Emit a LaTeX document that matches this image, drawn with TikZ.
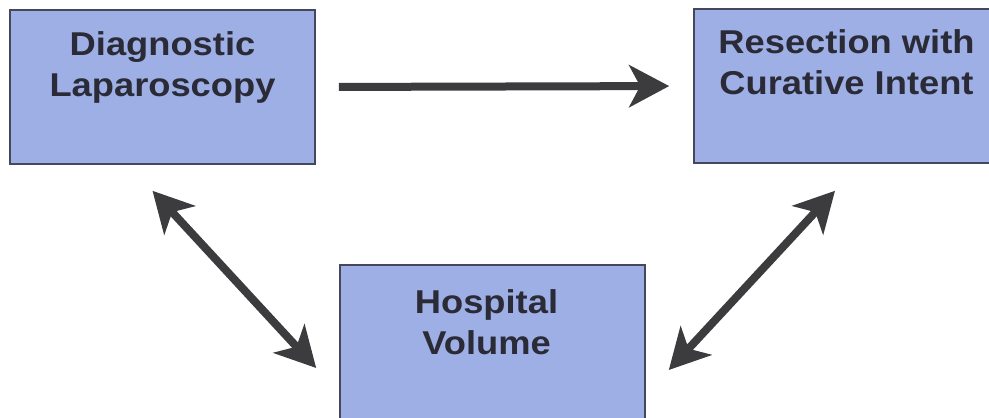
\documentclass[tikz,border=0pt]{standalone}
\usepackage{fontspec}
\setmainfont{Liberation Sans}
\newfontfamily\boxfont[FakeStretch=1.1]{Liberation Sans}
\usetikzlibrary{arrows.meta}
\definecolor{boxfill}{HTML}{9EAFE6}
\definecolor{boxline}{HTML}{45475A}
\definecolor{txt}{HTML}{2A2B36}
\definecolor{arr}{HTML}{3C3C3E}
\tikzset{
  box/.style={draw=boxline, line width=1.6pt, fill=boxfill, minimum width=305pt, minimum height=154pt, inner sep=0pt},
  lbl/.style={text=txt, font=\boxfont\bfseries\fontsize{33}{41}\selectfont, align=center, inner sep=0pt, anchor=base},
  arrow/.style={draw=arr, line width=8pt, -{Stealth[length=40pt, width=42pt, inset=11pt]}},
  dbl/.style={draw=arr, line width=8pt, {Stealth[length=40pt, width=42pt, inset=11pt]}-{Stealth[length=40pt, width=42pt, inset=11pt]}}
}
\begin{document}
\begin{tikzpicture}[x=1pt, y=-1pt]
\useasboundingbox (0,0) rectangle (989,418);
\clip (0,0) rectangle (989,418);
\node[box] (diag) at (162.5,87) {};
\node[box] (resec) at (846.5,86) {};
\node[box] (hosp) at (492.5,342) {};
\node[lbl] (diagt) at ([yshift=-87pt]diag.north) {Diagnostic\\Laparoscopy};
\node[lbl] (resect) at ([yshift=-86pt]resec.north) {Resection with\\Curative Intent};
\node[lbl] (hospt) at ([xshift=-6pt,yshift=-90pt]hosp.north) {Hospital\\Volume};
\draw[arrow, shorten <=23pt, shorten >=24pt] (diag.east) -- (resec.west);
\draw[dbl] ([shift={(-10,26)}]diag.south) -- ([shift={(-23,26)}]hosp.west);
\draw[dbl] ([shift={(-11.5,27)}]resec.south) -- ([shift={(23,28)}]hosp.east);
\end{tikzpicture}
\end{document}
